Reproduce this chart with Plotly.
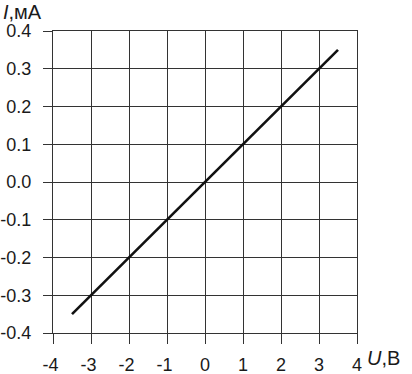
import plotly.graph_objects as go

line_u = [-3.5, 3.5]
line_i = [-0.35, 0.35]
x_ticks = [-4, -3, -2, -1, 0, 1, 2, 3, 4]
x_labels = [f"{v}\u00a0" if v < 0 else str(v) for v in x_ticks]
y_ticks = [-0.4, -0.3, -0.2, -0.1, 0.0, 0.1, 0.2, 0.3, 0.4]
y_labels = [f"{v:.1f}" for v in y_ticks]

fig = go.Figure()
fig.add_trace(go.Scatter(x=line_u, y=line_i, mode="lines",
                         line=dict(color="#111111", width=2.6), showlegend=False))

grid_col = "#333333"
fig.update_layout(
    width=412, height=374,
    margin=dict(l=53, r=55, t=31, b=41, autoexpand=False),
    paper_bgcolor="white", plot_bgcolor="white",
    font=dict(family="Liberation Sans, Arial, sans-serif", size=18, color="#1a1a1a"),
    xaxis=dict(range=[-4, 4], tickvals=x_ticks, ticktext=x_labels,
               showgrid=True, gridcolor=grid_col, gridwidth=1.4,
               showline=True, linecolor=grid_col, linewidth=1.4, mirror=True,
               ticks="outside", ticklen=10, tickcolor=grid_col, tickwidth=1.4,
               zeroline=False, ticklabelstandoff=5, automargin=False),
    yaxis=dict(range=[-0.4, 0.4], tickvals=y_ticks, ticktext=y_labels,
               showgrid=True, gridcolor=grid_col, gridwidth=1.4,
               showline=True, linecolor=grid_col, linewidth=1.4, mirror=True,
               ticks="outside", ticklen=9, tickcolor=grid_col, tickwidth=1.4,
               zeroline=False, ticklabelstandoff=8, automargin=False),
    annotations=[
        dict(text="<i>I</i>,мА", xref="paper", yref="paper", x=0, y=1.0,
             xanchor="left", yanchor="bottom", xshift=-52, yshift=6, showarrow=False,
             font=dict(size=20, color="#1a1a1a")),
        dict(text="<i>U</i>,В", xref="paper", yref="paper", x=1.0, y=0.0,
             xanchor="left", yanchor="top", xshift=8, yshift=-12, showarrow=False,
             font=dict(size=20, color="#1a1a1a")),
    ],
)
fig.write_html("out.html", config={"displayModeBar": False},
               post_script="document.body.style.margin='0';document.body.style.overflow='hidden';")
